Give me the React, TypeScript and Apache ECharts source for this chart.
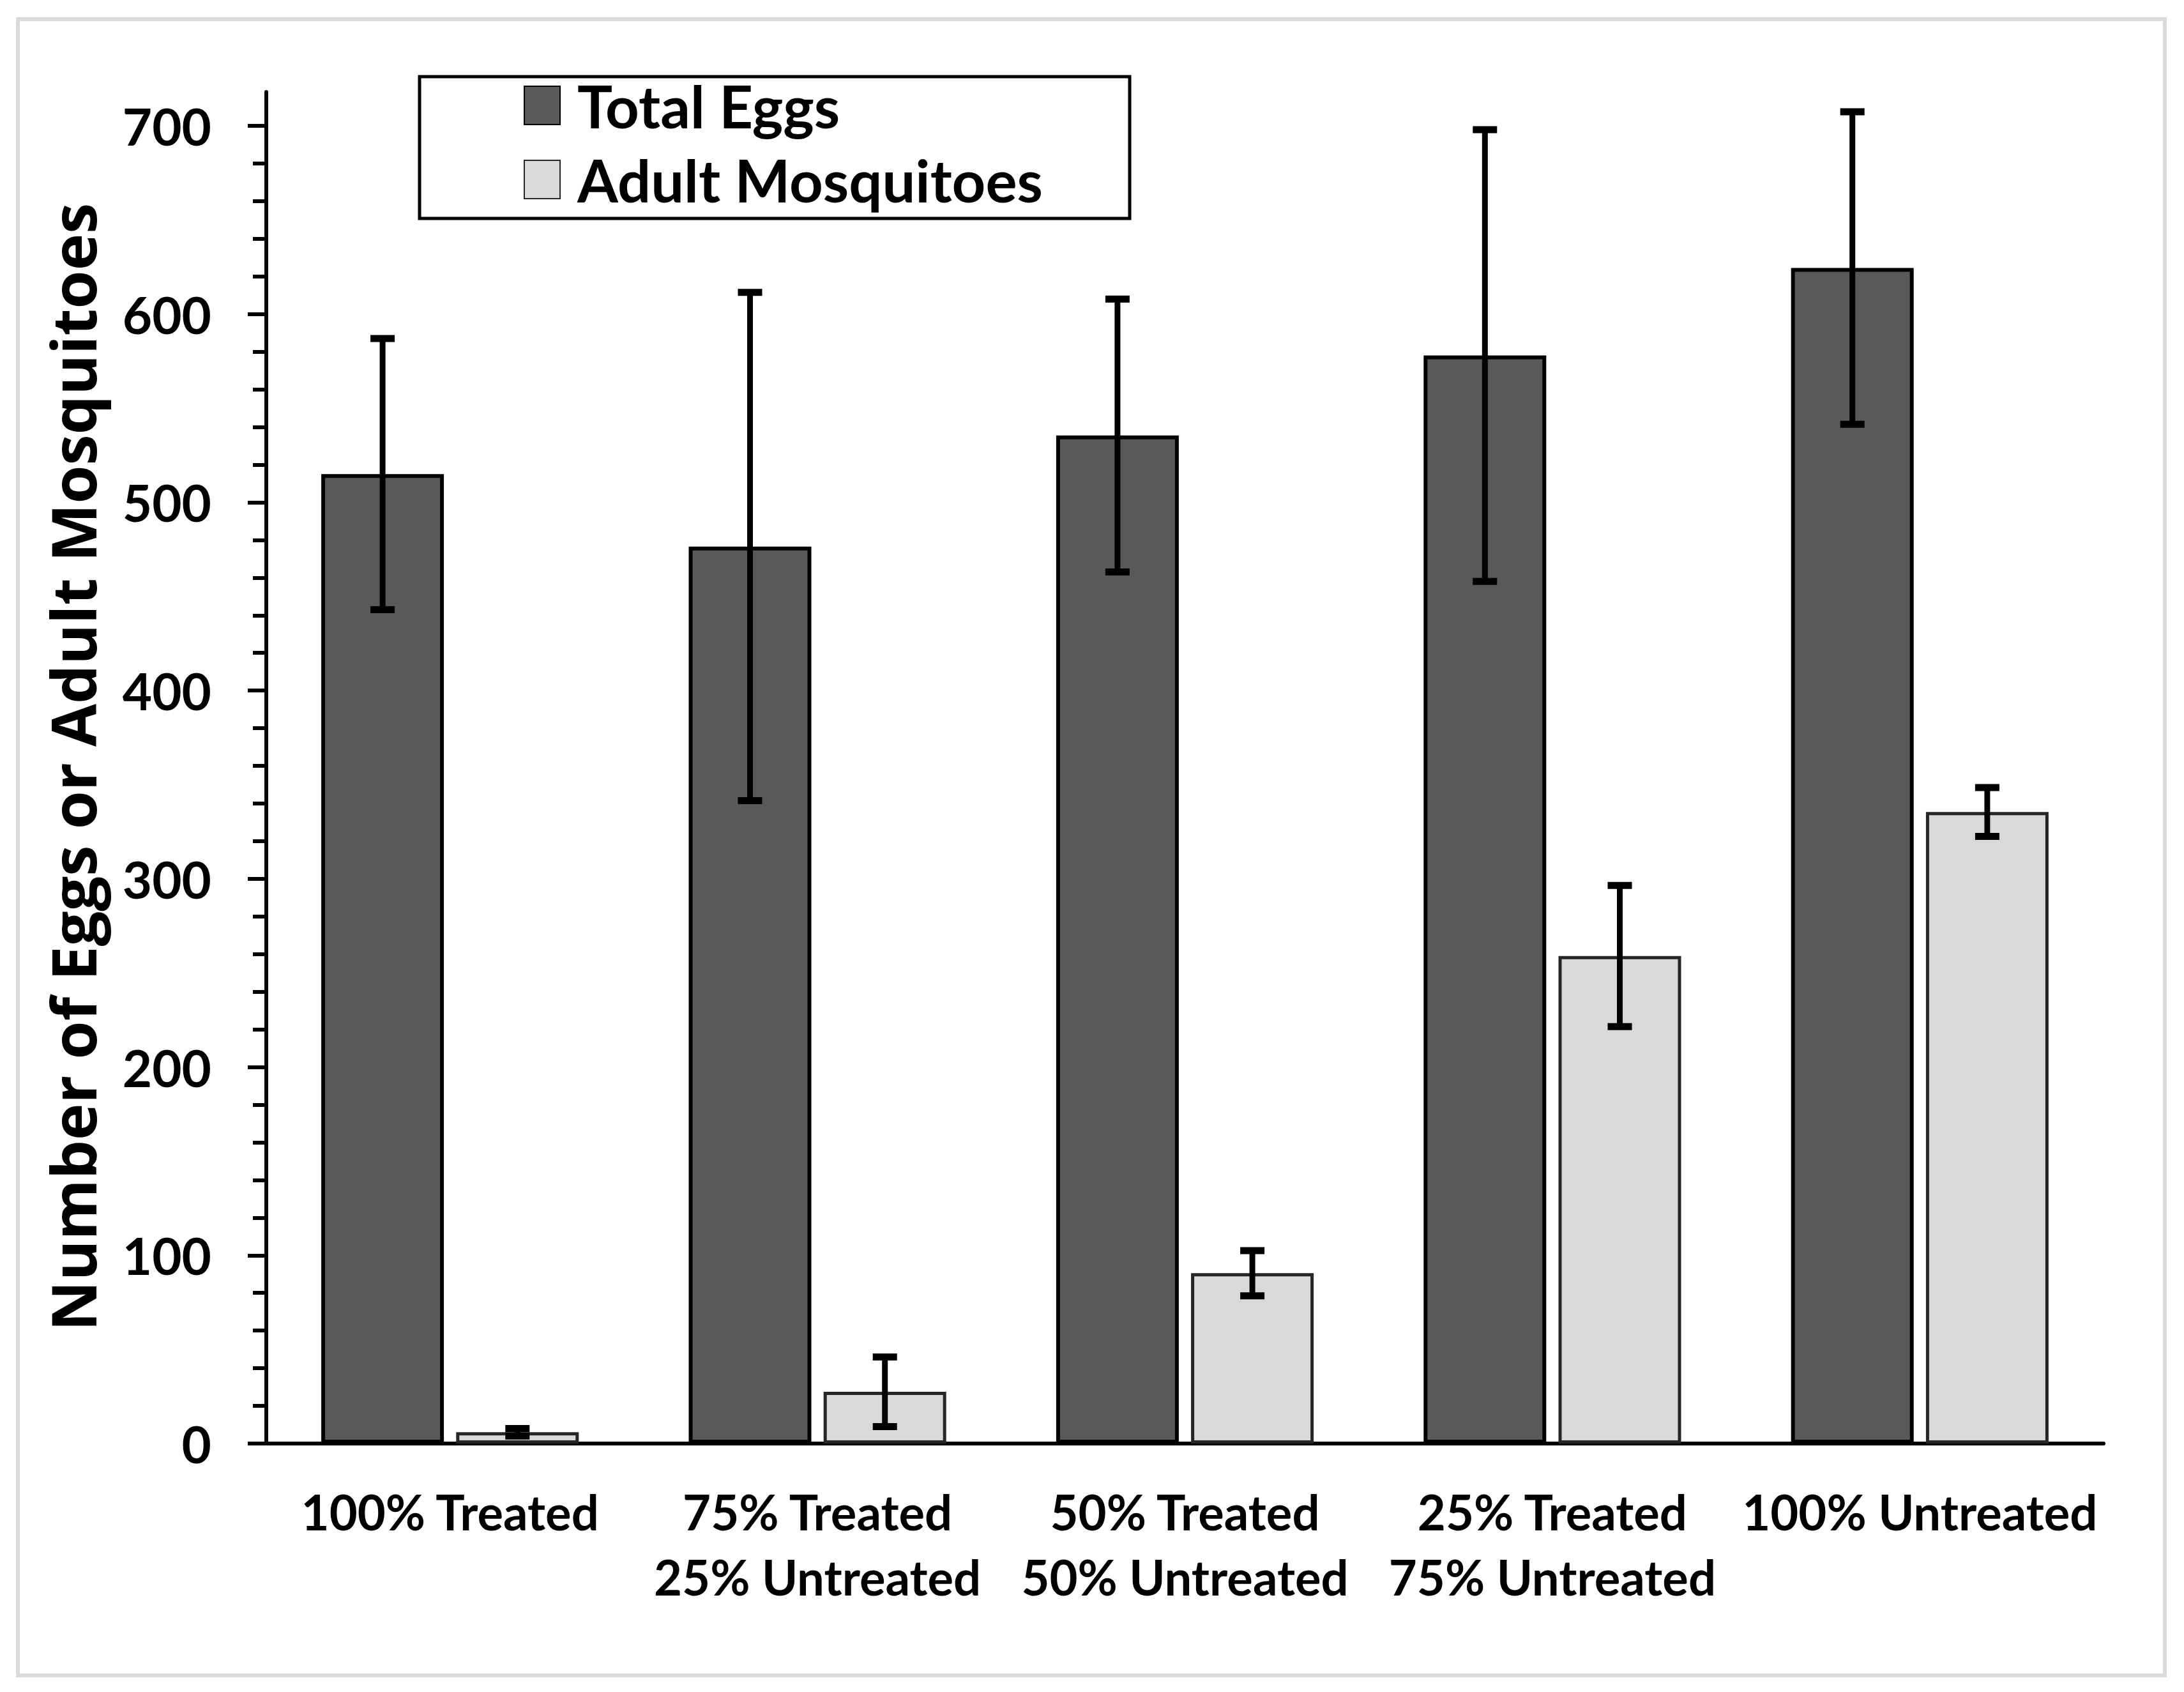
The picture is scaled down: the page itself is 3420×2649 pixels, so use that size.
import React, { useEffect, useRef } from "react";
import * as echarts from "echarts";

const categories = [
  "100% Treated",
  "75% Treated\n25% Untreated",
  "50% Treated\n50% Untreated",
  "25% Treated\n75% Untreated",
  "100% Untreated",
];
const totalEggs = [515, 476.5, 535.5, 578, 624.5];
const totalEggsErr = [72, 135, 72.5, 120, 83];
const adultMosquitoes = [6, 27.5, 90.5, 259, 335.5];
const adultMosquitoesErr = [2, 18.5, 12, 37.5, 13];
const majorTicks = [0, 100, 200, 300, 400, 500, 600, 700];
const minorTicks = [
  20, 40, 60, 80, 120, 140, 160, 180, 220, 240, 260, 280, 320, 340, 360, 380,
  420, 440, 460, 480, 520, 540, 560, 580, 620, 640, 660, 680,
];
const yTitle = "Number of Eggs or Adult Mosquitoes";
const seriesNames = ["Total Eggs", "Adult Mosquitoes"];

const BAR_W = 192;
const BAR_GAP = 0.1;
const LABEL_FONT = "Lato";

function errSeries(name: string, vals: number[], errs: number[], sign: number) {
  const offset = sign * (BAR_W + BAR_W * BAR_GAP) / 2;
  return {
    type: "custom",
    name,
    z: 5,
    data: vals.map((v, i) => [i, v, errs[i]]),
    renderItem: (params: any, api: any) => {
      const idx = api.value(0);
      const v = api.value(1);
      const e = api.value(2);
      const hi = api.coord([idx, v + e]);
      const lo = api.coord([idx, Math.max(v - e, 0)]);
      const cx = hi[0] + offset;
      const capW = 38;
      const stemStyle = { stroke: "#000", lineWidth: 9 };
      const capStyle = { stroke: "#000", lineWidth: 11 };
      return {
        type: "group",
        children: [
          { type: "line", shape: { x1: cx, y1: hi[1], x2: cx, y2: lo[1] }, style: stemStyle },
          { type: "line", shape: { x1: cx - capW / 2, y1: hi[1], x2: cx + capW / 2, y2: hi[1] }, style: capStyle },
          { type: "line", shape: { x1: cx - capW / 2, y1: lo[1], x2: cx + capW / 2, y2: lo[1] }, style: capStyle },
        ],
      };
    },
  };
}

export default function App() {
  const ref = useRef<HTMLDivElement>(null);
  useEffect(() => {
    if (!ref.current) return;
    const chart = echarts.init(ref.current, null, { renderer: "svg" });
    const option: any = {
      animation: false,
      backgroundColor: "#fff",
      grid: { left: 417, right: 126, top: 144, bottom: 389, containLabel: false },
      legend: {
        data: seriesNames,
        orient: "vertical",
        left: 820,
        top: 119,
        padding: 0,
        itemWidth: 56,
        itemHeight: 60,
        itemGap: 24,
        icon: "rect",
        selectedMode: false,
        textStyle: {
          fontFamily: LABEL_FONT,
          fontWeight: "bold",
          fontSize: 92,
          color: "#000",
          padding: [0, 0, 0, 22],
        },
      },
      xAxis: {
        type: "category",
        data: categories,
        axisLine: { show: true, lineStyle: { color: "#000", width: 6 } },
        axisTick: { show: false },
        axisLabel: {
          interval: 0,
          margin: 55,
          fontFamily: LABEL_FONT,
          fontWeight: "bold",
          fontSize: 76,
          lineHeight: 102,
          color: "#000",
        },
        splitLine: { show: false },
      },
      yAxis: [
        {
          type: "value",
          min: 0,
          max: 718,
          axisLine: { show: true, lineStyle: { color: "#000", width: 6 } },
          axisTick: { show: true, length: 29, lineStyle: { color: "#000", width: 6 }, customValues: majorTicks },
          axisLabel: {
            customValues: majorTicks,
            margin: 86,
            fontFamily: LABEL_FONT,
            fontWeight: "bold",
            fontSize: 80,
            color: "#000",
          },
          splitLine: { show: false },
        },
        {
          type: "value",
          min: 0,
          max: 718,
          position: "left",
          axisLine: { show: false },
          axisTick: { show: true, length: 21, lineStyle: { color: "#000", width: 6 }, customValues: minorTicks },
          axisLabel: { show: false },
          splitLine: { show: false },
        },
      ],
      graphic: [
        {
          type: "rect",
          z: -1,
          shape: { x: 28, y: 30, width: 3362, height: 2593 },
          style: { fill: "none", stroke: "#d9d9d9", lineWidth: 6 },
        },
        {
          type: "rect",
          z: 1,
          shape: { x: 657, y: 120, width: 1112, height: 222 },
          style: { fill: "none", stroke: "#000", lineWidth: 5 },
        },
        {
          type: "text",
          x: 113,
          y: 1201,
          rotation: Math.PI / 2,
          style: {
            text: yTitle,
            fontFamily: "Open Sans",
            fontWeight: "bold",
            fontSize: 97,
            fill: "#000",
            textAlign: "center",
            textVerticalAlign: "middle",
          },
        },
      ],
      series: [
        {
          type: "bar",
          name: seriesNames[0],
          data: totalEggs,
          barWidth: BAR_W,
          barGap: BAR_GAP * 100 + "%",
          itemStyle: { color: "#595959", borderColor: "#000", borderWidth: 6 },
        },
        {
          type: "bar",
          name: seriesNames[1],
          data: adultMosquitoes,
          barWidth: BAR_W,
          barGap: BAR_GAP * 100 + "%",
          itemStyle: { color: "#D9D9D9", borderColor: "#262626", borderWidth: 5 },
        },
        errSeries("Total Eggs error", totalEggs, totalEggsErr, -1),
        errSeries("Adult Mosquitoes error", adultMosquitoes, adultMosquitoesErr, 1),
      ],
    };
    chart.setOption(option);
    return () => chart.dispose();
  }, []);
  return (
    <div
      ref={ref}
      style={{ position: "absolute", left: 0, top: 0, width: 3420, height: 2649, background: "#fff" }}
    />
  );
}
